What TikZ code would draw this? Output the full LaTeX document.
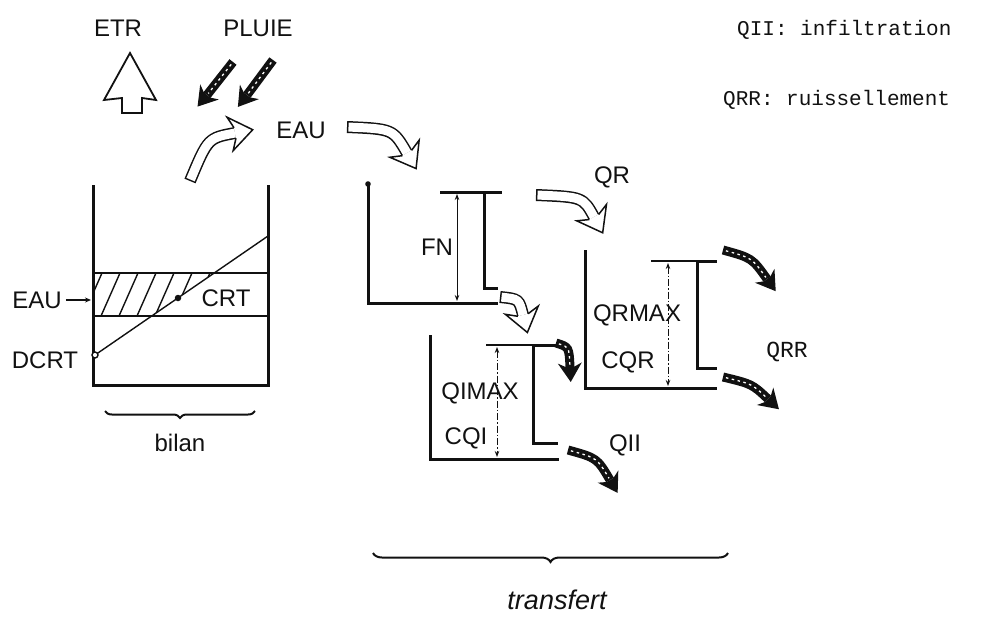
\documentclass[tikz,border=0pt]{standalone}
\usepackage{fontspec}
\setmainfont{Liberation Sans}
\setmonofont{Liberation Mono}
\usepackage{tikz}
\usetikzlibrary{calc,arrows.meta,decorations.pathreplacing}
\definecolor{Ink}{HTML}{111111}

\newcommand{\wideflow}[3]{%
  \draw[line width=12pt] (#1) .. controls (#2) .. (#3);
  \draw[white,line width=9pt,shorten <=1.5pt] (#1) .. controls (#2) .. (#3);
  \coordinate (hb) at ($(#3)!5pt!(#2)$);
  \filldraw[fill=white,line width=1.5pt,line join=miter]
    ($(#3)!5.3pt!90:(#2)$) -- ($(hb)!17pt!90:(#2)$) -- ($(#3)!-18pt!(#2)$)
    -- ($(hb)!17pt!-90:(#2)$) -- ($(#3)!5.3pt!-90:(#2)$);
}
\newcommand{\darkflow}[3]{%
  \draw[line width=9pt] (#1) .. controls (#2) .. (#3);
  \draw[white,line width=1.3pt,dash pattern=on 2.5pt off 3.5pt,shorten <=3pt,shorten >=2pt] (#1) .. controls (#2) .. (#3);
  \coordinate (hb) at ($(#3)!4pt!(#2)$);
  \fill ($(#3)!4pt!90:(#2)$) -- ($(hb)!12pt!90:(#2)$) -- ($(#3)!-15pt!(#2)$)
    -- ($(hb)!12pt!-90:(#2)$) -- ($(#3)!4pt!-90:(#2)$) -- cycle;
}

\begin{document}
\begin{tikzpicture}[x=1pt,y=-1pt,color=Ink,
  wall/.style={line width=3pt,line join=miter},
  thin/.style={line width=1.4pt},
  levdash/.style={dash pattern=on 7pt off 2pt on 1.5pt off 2pt},
  level/.style={line width=0.9pt,{Stealth[length=6pt,width=4.5pt]}-{Stealth[length=6pt,width=4.5pt]}},
  lab/.style={font=\fontsize{24}{27}\selectfont,inner sep=0pt},
  legend/.style={font=\ttfamily\fontsize{21}{24}\selectfont,inner sep=0pt,anchor=west},
  bracket/.style={decorate,decoration={brace,amplitude=#1,mirror},line width=2pt}
]
\useasboundingbox (0,0) rectangle (981,616);

\node[lab] (etr) at (118,28) {ETR};
\node[lab] (pluie) at (258,28) {PLUIE};
\node[lab] (eau) at (301,130) {EAU};
\node[legend] (legqii) at (737,30) {QII: infiltration};
\node[legend] (legqrr) at (723,100) {QRR: ruissellement};

\draw[line width=1.8pt,line join=miter] (122,113) -- (122,98) -- (104,100) -- (130,53) -- (156,100) -- (142,98) -- (142,113) -- cycle;

\coordinate (p1) at (233,62);
\coordinate (p1c) at (220,79);
\coordinate (p1e) at (207,95);
\coordinate (p2) at (273,60);
\coordinate (p2c) at (260,78);
\coordinate (p2e) at (247,95);
\darkflow{p1}{p1c}{p1e}
\darkflow{p2}{p2c}{p2e}

\draw[wall] (93,185) -- (93,385) -- (268,385) -- (268,185);
\draw[thin] (93,273) -- (268,273) (93,316) -- (268,316);
\begin{scope}
\clip (93,273) -- (214,273) -- (152,316) -- (93,316) -- cycle;
\foreach \x in {83,101,...,240} \draw[thin] (\x,316) -- ++(19,-43);
\end{scope}
\coordinate (dcrtpt) at (95,355);
\coordinate (crtend) at (268,236);
\draw[thin] (dcrtpt) -- (crtend);
\node[circle,draw,thin,fill=white,inner sep=0pt,minimum size=6pt] (dotd) at (dcrtpt) {};
\node[circle,fill,inner sep=0pt,minimum size=6.5pt] (dotc) at (178,298) {};
\node[lab] (eaul) at (37,300) {EAU};
\coordinate (eauw) at (91,300);
\draw[thin,-{Stealth[length=6pt,width=5pt]}] ([xshift=4pt]eaul.east) -- (eauw);
\node[lab] (dcrt) at (45,360) {DCRT};
\node[lab] (crt) at (226,298) {CRT};
\coordinate (bl) at (105,411);
\coordinate (br) at (255,411);
\draw[bracket=7pt] (bl) -- (br);
\node[lab] (bilan) at (180,443) {bilan};

\coordinate (b1) at (190,181);
\coordinate (b1c) at (208,138);
\coordinate (b1e) at (235,133);
\wideflow{b1}{b1c}{b1e}
\coordinate (e1) at (347,127);
\coordinate (e1c) at (393,129);
\coordinate (e1e) at (407,153);
\wideflow{e1}{e1c}{e1e}

\draw[wall] (368,185) -- (368,303) -- (498,303);
\draw[wall] (440,192) -- (502,192) (484,192) -- (484,288) -- (498,288);
\fill (368,184) circle (2.8pt);
\draw[level] (457,194) -- (457,301);
\node[lab] (fn) at (437,247) {FN};

\coordinate (q1) at (536,195);
\coordinate (q1c) at (583,197);
\coordinate (q1e) at (594,217);
\wideflow{q1}{q1c}{q1e}
\node[lab] (qr) at (612,177) {QR};

\coordinate (t1) at (500,297);
\coordinate (t1c) at (519,299);
\coordinate (t1e) at (523,315);
\wideflow{t1}{t1c}{t1e}

\draw[wall] (430,335) -- (430,459) -- (559,459);
\draw[thin] (486,345) -- (533,345);
\draw[wall] (533,345) -- (557,345) (533,345) -- (533,443) -- (558,443);
\draw[level,levdash] (497,347) -- (497,457);
\node[lab] (qimax) at (480,393) {QIMAX};
\node[lab] (cqi) at (466,438) {CQI};

\coordinate (s1) at (556,343);
\coordinate (s1c) at (569,347);
\coordinate (s1e) at (570,367);
\darkflow{s1}{s1c}{s1e}
\coordinate (x1) at (568,450);
\coordinate (x1c) at (597,458);
\coordinate (x1e) at (610,480);
\darkflow{x1}{x1c}{x1e}
\node[lab] (qii) at (625,445) {QII};

\draw[wall] (585,250) -- (585,388) -- (717,388);
\draw[thin] (651,261) -- (697,261);
\draw[wall] (697,261) -- (717,261) (697,261) -- (697,368) -- (717,368);
\draw[level,levdash] (668,263) -- (668,386);
\node[lab] (qrmax) at (637,315) {QRMAX};
\node[lab] (cqr) at (628,362) {CQR};

\coordinate (r1) at (723,250);
\coordinate (r1c) at (752,258);
\coordinate (r1e) at (767,279);
\darkflow{r1}{r1c}{r1e}
\coordinate (r2) at (723,377);
\coordinate (r2c) at (752,384);
\coordinate (r2e) at (768,399);
\darkflow{r2}{r2c}{r2e}
\node[lab,font=\ttfamily\fontsize{23}{26}\selectfont] (qrr) at (787,352) {QRR};

\coordinate (tl) at (373,553);
\coordinate (tr) at (728,553);
\draw[bracket=9pt] (tl) -- (tr);
\node[lab,font=\itshape\fontsize{27}{30}\selectfont] (transfert) at (557,600) {transfert};
\end{tikzpicture}
\end{document}
